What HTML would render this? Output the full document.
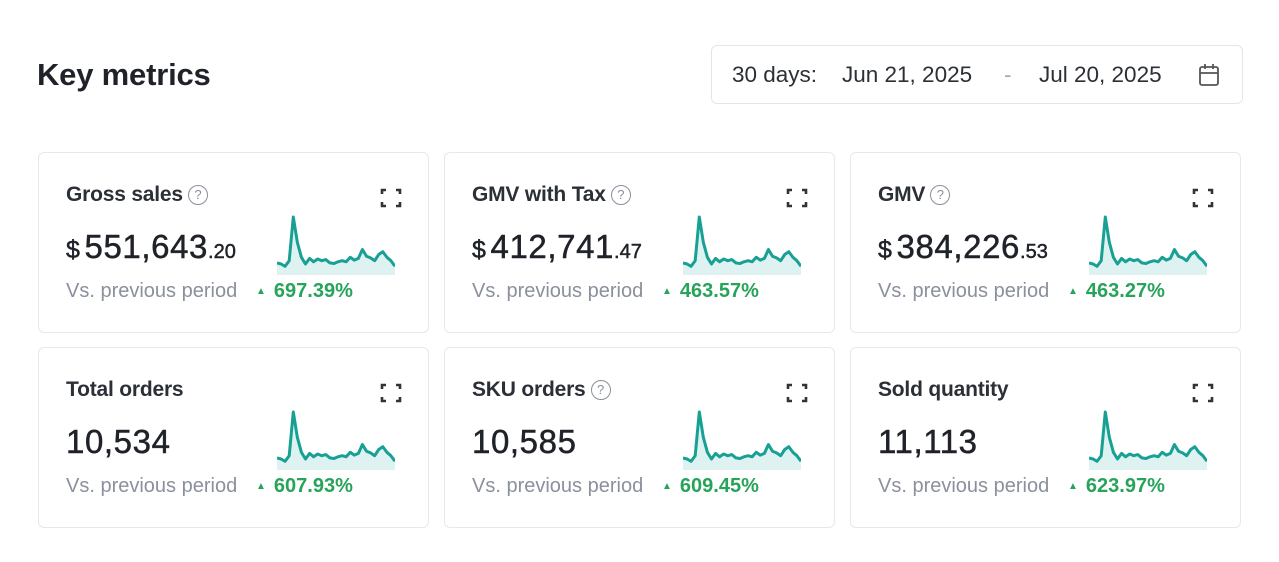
<!DOCTYPE html>
<html><head><meta charset="utf-8">
<style>
body{margin:0;width:1279px;height:562px;background:#fff;font-family:"Liberation Sans",sans-serif;color:#1f2329;position:relative;overflow:hidden}
.h{position:absolute;left:37px;top:57px;font-size:31px;font-weight:bold;letter-spacing:-0.2px;color:#1f2329}
.date{position:absolute;left:711px;top:45px;width:532px;height:59px;border:1px solid #e3e5e8;border-radius:6px;box-sizing:border-box;font-size:22.5px;color:#2b2f36}
.date span{position:absolute;top:16px}
.card{position:absolute;width:391px;height:181px;border:1px solid #e6e8eb;border-radius:6px;box-sizing:border-box}
.t{position:absolute;left:27px;top:30px;font-size:21px;font-weight:bold;color:#2b2f36;letter-spacing:-0.2px}
.q{display:inline-block;width:18px;height:18px;border:1.5px solid #8a8f99;border-radius:50%;font-size:13px;text-align:center;line-height:18px;color:#8a8f99;font-weight:normal;vertical-align:2px;margin-left:5px}
.v{position:absolute;left:27px;top:75px;font-size:33px;color:#1f2329;letter-spacing:0.6px;-webkit-text-stroke:0.5px #1f2329}
.v small{font-size:20px;letter-spacing:0}
.v .d{font-size:25px;margin-right:4px}
.vs{position:absolute;left:27px;top:127px;font-size:20px;color:#8a909c}
.pc{position:absolute;left:217px;top:127px;font-size:20px;color:#27a35a;font-weight:bold}
.pc i{font-style:normal;font-size:10px;margin-right:8px;vertical-align:3px}
.ex{position:absolute;left:341px;top:35px}
.sp{position:absolute;left:238px;top:60px}
</style></head><body>
<div class="h">Key metrics</div>
<div class="date">
<span style="left:20px">30 days:</span><span style="left:130px">Jun 21, 2025</span><span style="left:292px;color:#aaa">-</span><span style="left:327px">Jul 20, 2025</span>
<svg style="position:absolute;left:486px;top:17px" width="22" height="24" viewBox="0 0 22 24"><rect x="2" y="4" width="18" height="18" rx="2" fill="none" stroke="#555" stroke-width="1.8"/><line x1="2" y1="10" x2="20" y2="10" stroke="#555" stroke-width="1.8"/><line x1="7" y1="1" x2="7" y2="6" stroke="#555" stroke-width="1.8"/><line x1="15" y1="1" x2="15" y2="6" stroke="#555" stroke-width="1.8"/></svg>
</div>
<div id="cards"></div>
<script>
const titles=["Gross sales","GMV with Tax","GMV","Total orders","SKU orders","Sold quantity"];
const helps=[true,true,true,false,true,false];
const mains=["551,643","412,741","384,226","10,534","10,585","11,113"];
const cents=[".20",".47",".53","","",""];
const pcts=["697.39%","463.57%","463.27%","607.93%","609.45%","623.97%"];
const spark=[18,16,12,22,100,55,28,16,26,20,25,22,24,18,17,20,22,20,28,23,26,42,30,27,22,33,38,28,22,12];
const lefts=[38,444,850];const tops=[152,347];
const W=118,H=62;
function sx(i){return i/(spark.length-1)*W;}
function sy(v){return H-2-(v/100)*(H-6);}
const host=document.getElementById('cards');
titles.forEach((t,k)=>{
 const c=document.createElement('div');c.className='card';
 
 
 c.style.left=lefts[k%3]+'px';c.style.top=tops[Math.floor(k/3)]+'px';
 let pts=spark.map((v,i)=>sx(i).toFixed(1)+','+sy(v).toFixed(1)).join(' ');
 c.innerHTML=`<div class="t">${t}${helps[k]?'<span class="q">?</span>':''}</div>
 <svg class="ex" width="22" height="20" viewBox="0 0 22 20"><path d="M2 6V2h4M16 2h4v4M20 14v4h-4M6 18H2v-4" fill="none" stroke="#333" stroke-width="2.6"/></svg>
 <div class="v">${k<3?'<span class="d">$</span>':''}${mains[k]}<small>${cents[k]}</small></div>
 <div class="vs">Vs. previous period</div>
 <div class="pc"><i>▲</i>${pcts[k]}</div>
 <svg class="sp" width="${W}" height="${H}"><polygon points="0,${H} ${pts} ${W},${H}" fill="#def3f1"/><polyline points="${pts}" fill="none" stroke="#18a095" stroke-width="3" stroke-linejoin="round"/></svg>`;
 c.querySelector('.t');
 c.querySelector('.t');
 c.querySelector('.ex');
 c.querySelector('.ex');
 c.querySelector('.v');
 c.querySelector('.v');
 c.querySelector('.vs');
 c.querySelector('.vs');
 c.querySelector('.pc');
 c.querySelector('.pc');
 c.querySelector('.sp');
 c.querySelector('.sp');
 host.appendChild(c);
});
</script>
</body></html>
